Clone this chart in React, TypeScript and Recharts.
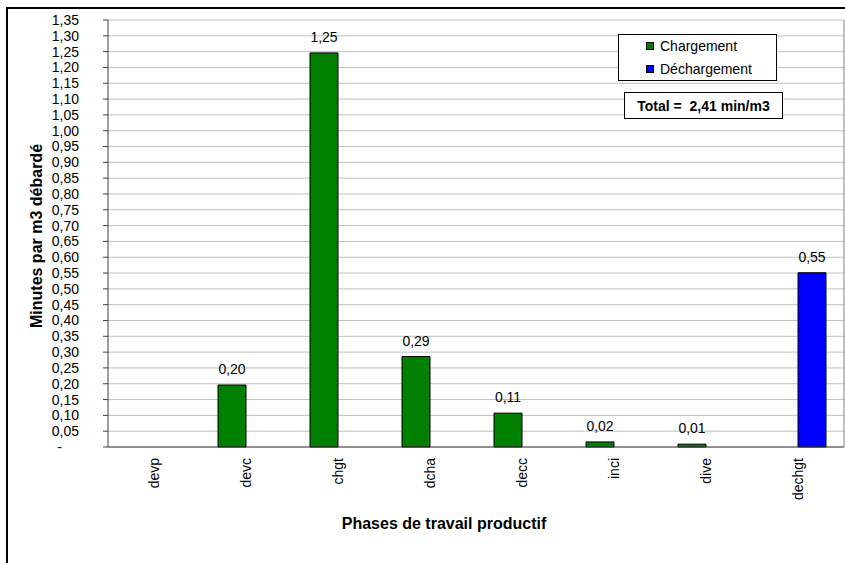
import React from 'react';
import { BarChart, Bar, XAxis, YAxis, CartesianGrid, LabelList, Legend } from 'recharts';

const categories = ['devp', 'devc', 'chgt', 'dcha', 'decc', 'inci', 'dive', 'dechgt'];
const chargement: (number | null)[] = [null, 0.196, 1.246, 0.286, 0.107, 0.016, 0.009, null];
const dechargement: (number | null)[] = [null, null, null, null, null, null, null, 0.551];
const yTicks = [
  0, 0.05, 0.1, 0.15, 0.2, 0.25, 0.3, 0.35, 0.4, 0.45, 0.5, 0.55, 0.6, 0.65,
  0.7, 0.75, 0.8, 0.85, 0.9, 0.95, 1.0, 1.05, 1.1, 1.15, 1.2, 1.25, 1.3, 1.35,
];
const seriesNames = ['Chargement', 'Déchargement'];
const seriesColors = ['#008000', '#0000FF'];
const yTitle = 'Minutes par m3 débardé';
const xTitle = 'Phases de travail productif';

const FONT = '"Liberation Sans", Arial, sans-serif';

const data = categories.map((c, i) => ({
  name: c,
  chargement: chargement[i],
  dechargement: dechargement[i],
}));

const total = [...chargement, ...dechargement].reduce<number>((s, v) => s + (v ?? 0), 0);

const fmt = (v: any) => (v == null || v === '' ? '' : Number(v).toFixed(2).replace('.', ','));

const YTick = (props: any) => {
  const { x, y, payload } = props;
  const v = payload.value;
  const label = v === 0 ? '-' : fmt(v);
  return (
    <text x={v === 0 ? x - 17 : x} y={y} dy="0.355em" textAnchor="end" fontSize={14} fill="#000" fontFamily={FONT}>
      {label}
    </text>
  );
};

const XTick = (props: any) => {
  const { x, y, payload } = props;
  return (
    <text
      x={x}
      y={y}
      dy="0.36em"
      transform={`rotate(-90, ${x}, ${y})`}
      textAnchor="end"
      fontSize={14}
      fill="#000"
      fontFamily={FONT}
    >
      {payload.value}
    </text>
  );
};

const YTitle = () => (
  <text
    x={36}
    y={236}
    transform="rotate(-90, 36, 236)"
    textAnchor="middle"
    dominantBaseline="central"
    fontWeight="bold"
    fontSize={16}
    fill="#000"
    fontFamily={FONT}
  >
    {yTitle}
  </text>
);

const XTitle = () => (
  <text
    x={444}
    y={523}
    textAnchor="middle"
    dominantBaseline="central"
    fontWeight="bold"
    fontSize={16}
    fill="#000"
    fontFamily={FONT}
  >
    {xTitle}
  </text>
);

const LegendBox = (props: any) => {
  const payload = props.payload || [];
  return (
    <div
      style={{
        width: 159,
        height: 47,
        boxSizing: 'border-box',
        border: '1px solid #000',
        background: '#fff',
        position: 'relative',
        fontFamily: FONT,
        fontSize: 14,
        color: '#000',
      }}
    >
      {payload.map((p: any, i: number) => (
        <div
          key={i}
          style={{
            position: 'absolute',
            left: 27,
            top: i === 0 ? 2 : 25,
            height: 18,
            display: 'flex',
            alignItems: 'center',
            whiteSpace: 'nowrap',
          }}
        >
          <span
            style={{
              display: 'inline-block',
              width: 8,
              height: 8,
              boxSizing: 'border-box',
              border: '1px solid #000',
              background: p.color,
              marginRight: 6,
            }}
          />
          <span>{p.value}</span>
        </div>
      ))}
    </div>
  );
};

export default function App() {
  return (
    <div style={{ position: 'absolute', left: 0, top: 0, width: 845, height: 563, overflow: 'hidden', background: '#fff' }}>
      <div
        style={{
          position: 'absolute',
          left: 6,
          top: 7,
          width: 900,
          height: 700,
          borderLeft: '2px solid #000',
          borderTop: '2px solid #000',
        }}
      />
      <div style={{ position: 'absolute', left: 0, top: 0 }}>
        <BarChart
          width={845}
          height={563}
          data={data}
          margin={{ top: 20, right: 0, left: 0, bottom: 0 }}
          barGap={0}
          barSize={28}
        >
          <CartesianGrid vertical={false} stroke="#c0c0c0" />
          <XAxis
            dataKey="name"
            height={116}
            interval={0}
            tickLine={false}
            tickSize={0}
            tickMargin={11}
            axisLine={{ stroke: '#404040' }}
            tick={<XTick />}
            label={<XTitle />}
          />
          <YAxis
            width={108}
            domain={[0, 1.35]}
            ticks={yTicks}
            interval={0}
            tickSize={5}
            tickMargin={24}
            axisLine={{ stroke: '#404040' }}
            tickLine={{ stroke: '#404040' }}
            tick={<YTick />}
            label={<YTitle />}
          />
          <YAxis
            yAxisId="right"
            orientation="right"
            width={1}
            domain={[0, 1.35]}
            tick={false}
            tickLine={false}
            axisLine={{ stroke: '#808080' }}
          />
          <Legend
            layout="vertical"
            align="center"
            verticalAlign="middle"
            content={<LegendBox />}
            wrapperStyle={{ position: 'absolute', left: 618, top: 34, width: 159, height: 47 }}
          />
          <Bar
            dataKey="chargement"
            name={seriesNames[0]}
            fill={seriesColors[0]}
            stroke="#000"
            strokeWidth={1}
            isAnimationActive={false}
          >
            <LabelList
              dataKey="chargement"
              position="top"
              offset={11}
              formatter={fmt}
              fontSize={14}
              fill="#000"
              fontFamily={FONT}
            />
          </Bar>
          <Bar
            dataKey="dechargement"
            name={seriesNames[1]}
            fill={seriesColors[1]}
            stroke="#000"
            strokeWidth={1}
            isAnimationActive={false}
          >
            <LabelList
              dataKey="dechargement"
              position="top"
              offset={11}
              formatter={fmt}
              fontSize={14}
              fill="#000"
              fontFamily={FONT}
            />
          </Bar>
        </BarChart>
      </div>
      <div
        style={{
          position: 'absolute',
          left: 624,
          top: 92,
          width: 159,
          height: 27,
          boxSizing: 'border-box',
          border: '1px solid #000',
          background: '#fff',
          fontFamily: FONT,
          fontSize: 14,
          fontWeight: 'bold',
          color: '#000',
          display: 'flex',
          alignItems: 'center',
          justifyContent: 'center',
          whiteSpace: 'pre',
        }}
      >
        {`Total =  ${fmt(total)} min/m3`}
      </div>
    </div>
  );
}
